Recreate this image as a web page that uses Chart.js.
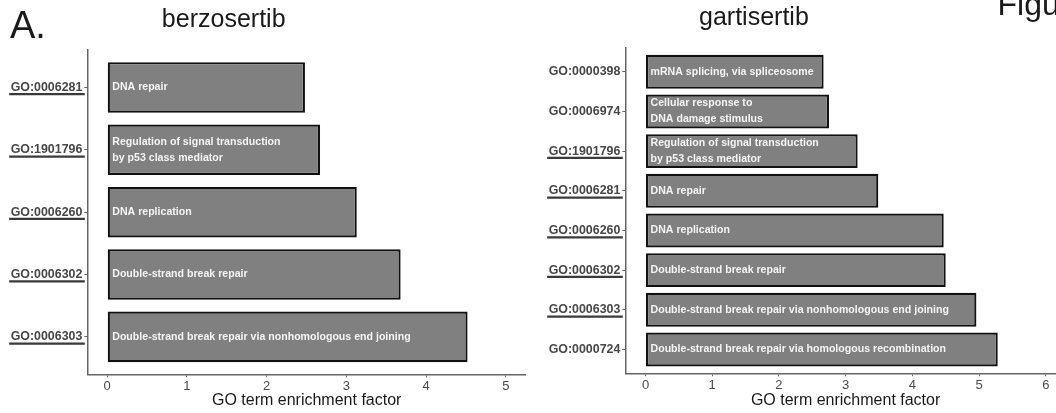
<!DOCTYPE html>
<html>
<head>
<meta charset="utf-8">
<script src="https://cdn.jsdelivr.net/npm/chart.js@4"></script>
<style>
  body { margin: 0; background: #fff; }
  #wrap { position: relative; width: 1056px; height: 413px; overflow: hidden; }
  canvas { position: absolute; top: 0; }
</style>
</head>
<body>
<div id="wrap">
  <canvas id="leftChart" width="530" height="413" style="left:0"></canvas>
  <canvas id="rightChart" width="526" height="413" style="left:530px"></canvas>
</div>
<script>
// ===============================
// Data
// ===============================

const berzoIds = ["GO:0006281", "GO:1901796", "GO:0006260", "GO:0006302", "GO:0006303"];
const berzoTerms = [
    "DNA repair",
    "Regulation of signal transduction\nby p53 class mediator",
    "DNA replication",
    "Double-strand break repair",
    "Double-strand break repair via nonhomologous end joining"
];
const berzoValues = [2.48, 2.67, 3.13, 3.68, 4.52];
const berzoUnderlined = [true, true, true, true, true];

const gartiIds = ["GO:0000398", "GO:0006974", "GO:1901796", "GO:0006281", "GO:0006260", "GO:0006302", "GO:0006303", "GO:0000724"];
const gartiTerms = [
    "mRNA splicing, via spliceosome",
    "Cellular response to\nDNA damage stimulus",
    "Regulation of signal transduction\nby p53 class mediator",
    "DNA repair",
    "DNA replication",
    "Double-strand break repair",
    "Double-strand break repair via nonhomologous end joining",
    "Double-strand break repair via homologous recombination"
];
const gartiValues = [2.67, 2.75, 3.18, 3.49, 4.47, 4.50, 4.96, 5.28];
const gartiUnderlined = [false, false, true, true, true, true, true, false];

const berzoTicks = [0, 1, 2, 3, 4, 5];
const gartiTicks = [0, 1, 2, 3, 4, 5, 6];

const xTitle = "GO term enrichment factor";

// ===============================
// Helpers
// ===============================

const FONT = "'Liberation Sans', Arial, Helvetica, sans-serif";
const ID_FONT_SIZE = 12.4;
Chart.defaults.font.family = FONT;

// white labels written inside each bar
const barText = {
    id: "barText",
    afterDatasetsDraw(chart, args, opts) {
        const ctx = chart.ctx;
        const meta = chart.getDatasetMeta(0);
        ctx.save();
        ctx.font = "bold 10.6px " + FONT;
        ctx.fillStyle = "#f4f4f4";
        ctx.textBaseline = "middle";
        ctx.textAlign = "left";
        meta.data.forEach((bar, i) => {
            const lines = opts.terms[i].split("\n");
            lines.forEach((ln, k) => {
                ctx.fillText(ln, bar.base + 4.5, bar.y + (k - (lines.length - 1) / 2) * 16);
            });
        });
        ctx.restore();
    }
};

// underlines under some GO ids + free texts (titles, panel letter)
const decor = {
    id: "decor",
    afterDraw(chart, args, opts) {
        const ctx = chart.ctx;
        const ys = chart.scales.y;
        ctx.save();
        ctx.font = "bold " + ID_FONT_SIZE + "px " + FONT;
        ctx.strokeStyle = "#3a3a3a";
        ctx.lineWidth = 2.2;
        opts.underlined.forEach((u, i) => {
            if (!u) return;
            const w = ctx.measureText(opts.ids[i]).width;
            const right = ys.right - 5;
            const y = ys.getPixelForValue(i) + 6.8;
            ctx.beginPath();
            ctx.moveTo(right - w - 1.5, y);
            ctx.lineTo(right + 2.5, y);
            ctx.stroke();
        });
        opts.texts.forEach(t => {
            ctx.font = t.font;
            ctx.fillStyle = t.color || "#1a1a1a";
            ctx.textAlign = t.align || "center";
            ctx.textBaseline = "alphabetic";
            ctx.fillText(t.text, t.x, t.y);
        });
        ctx.restore();
    }
};

function makeChart(id, cfg) {
    const n = cfg.ids.length;
    return new Chart(document.getElementById(id), {
        type: "bar",
        data: {
            datasets: [{
                data: cfg.values.map((v, i) => ({ x: v, y: i })),
                backgroundColor: "#808080",
                borderColor: "#111111",
                borderWidth: 2.2,
                borderSkipped: false,
                barPercentage: cfg.barPct,
                categoryPercentage: 1
            }]
        },
        plugins: [barText, decor],
        options: {
            indexAxis: "y",
            responsive: false,
            animation: false,
            devicePixelRatio: 1,
            layout: { padding: cfg.padding },
            plugins: {
                legend: { display: false },
                tooltip: { enabled: false },
                barText: { terms: cfg.terms },
                decor: { ids: cfg.ids, underlined: cfg.underlined, texts: cfg.texts }
            },
            scales: {
                y: {
                    type: "linear",
                    reverse: true,
                    offset: false,
                    min: -0.6,
                    max: n - 1 + 0.6,
                    afterBuildTicks: s => { s.ticks = cfg.ids.map((c, i) => ({ value: i })); },
                    afterFit: s => { s.width = cfg.yWidth; },
                    ticks: {
                        callback: v => cfg.ids[v],
                        color: "#474747",
                        font: { size: ID_FONT_SIZE, weight: "bold" },
                        padding: 2,
                        autoSkip: false
                    },
                    grid: { offset: false, drawOnChartArea: false, tickLength: 3, color: "#666", lineWidth: 1 },
                    border: { color: "#666", width: 1.5 }
                },
                x: {
                    type: "linear",
                    min: cfg.xMin,
                    max: cfg.xMax,
                    afterBuildTicks: s => { s.ticks = cfg.xTicks.map(v => ({ value: v })); },
                    afterFit: s => { s.height = cfg.xHeight; },
                    ticks: {
                        color: "#4a4a4a",
                        font: { size: 13 },
                        padding: 1,
                        maxRotation: 0
                    },
                    grid: { drawOnChartArea: false, tickLength: 3, color: "#666", lineWidth: 1 },
                    border: { color: "#666", width: 1.5 }
                }
            }
        }
    });
}

// ===============================
// Charts
// ===============================

makeChart("leftChart", {
    ids: berzoIds,
    terms: berzoTerms,
    values: berzoValues,
    underlined: berzoUnderlined,
    xTicks: berzoTicks,
    xMin: -0.25,
    xMax: 5.24,
    barPct: 0.81,
    yWidth: 87.3,
    xHeight: 38.7,
    padding: { top: 50, right: 5, left: 0, bottom: 0 },
    texts: [
        { text: "A.", x: 10, y: 37.7, font: "38px " + FONT, align: "left" },
        { text: "berzosertib", x: 223.7, y: 27.3, font: "25px " + FONT },
        { text: xTitle, x: 306.7, y: 405, font: "16px " + FONT }
    ]
});

makeChart("rightChart", {
    ids: gartiIds,
    terms: gartiTerms,
    values: gartiValues,
    underlined: gartiUnderlined,
    xTicks: gartiTicks,
    xMin: -0.303,
    xMax: 6.153,
    barPct: 0.855,
    yWidth: 95.3,
    xHeight: 39.7,
    padding: { top: 48, right: 0, left: 0, bottom: 0 },
    texts: [
        { text: "gartisertib", x: 223.9, y: 25, font: "25px " + FONT },
        { text: xTitle, x: 315.6, y: 405.4, font: "16px " + FONT },
        { text: "Figure", x: 467.5, y: 15, font: "32px " + FONT, align: "left" }
    ]
});
</script>
</body>
</html>
